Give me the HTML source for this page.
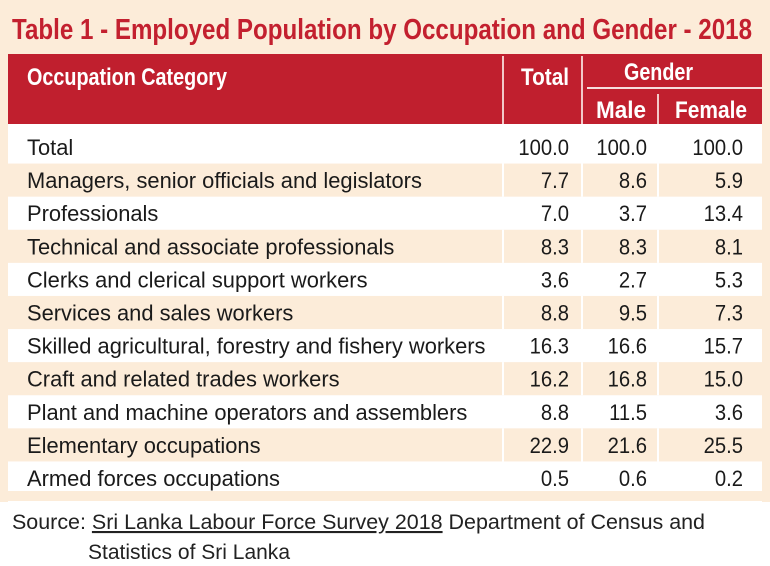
<!DOCTYPE html>
<html><head><meta charset="utf-8"><style>
html,body{margin:0;padding:0;background:#fff}
svg{display:block}
text{font-family:"Liberation Sans",sans-serif}
</style></head><body>
<svg width="770" height="566" viewBox="0 0 770 566" xmlns="http://www.w3.org/2000/svg">
<rect x="0" y="0" width="770" height="54" fill="#fcecd9"/>
<rect x="0" y="54" width="8" height="448" fill="#fcecd9"/>
<rect x="762" y="54" width="8" height="448" fill="#fcecd9"/>
<text x="12" y="39" font-size="29" font-weight="bold" fill="#c3202f" textLength="740" lengthAdjust="spacingAndGlyphs">Table 1 - Employed Population by Occupation and Gender - 2018</text>
<rect x="8" y="54" width="754" height="70" fill="#c01f2e"/>
<line x1="503" y1="56" x2="503" y2="124" stroke="#f3c9c9" stroke-width="2"/>
<line x1="582" y1="56" x2="582" y2="124" stroke="#f3c9c9" stroke-width="2"/>
<line x1="587" y1="88" x2="762" y2="88" stroke="#f7dede" stroke-width="2"/>
<line x1="658" y1="94" x2="658" y2="124" stroke="#f3c9c9" stroke-width="2"/>
<text x="27" y="85" font-size="24" font-weight="bold" fill="#fff" textLength="200" lengthAdjust="spacingAndGlyphs">Occupation Category</text>
<text x="521" y="85" font-size="24" font-weight="bold" fill="#fff" textLength="48" lengthAdjust="spacingAndGlyphs">Total</text>
<text x="624" y="80" font-size="24" font-weight="bold" fill="#fff" textLength="69" lengthAdjust="spacingAndGlyphs">Gender</text>
<text x="596" y="118" font-size="24" font-weight="bold" fill="#fff" textLength="50" lengthAdjust="spacingAndGlyphs">Male</text>
<text x="675" y="118" font-size="24" font-weight="bold" fill="#fff" textLength="72" lengthAdjust="spacingAndGlyphs">Female</text>
<g id="rows"></g>
<rect x="8" y="491" width="754" height="10" fill="#fcecd9"/>
<text x="12" y="529" font-size="21" fill="#222" textLength="693" lengthAdjust="spacingAndGlyphs">Source: <tspan text-decoration="underline">Sri Lanka Labour Force Survey 2018</tspan> Department of Census and</text>
<text x="88" y="559" font-size="21" fill="#222" textLength="202" lengthAdjust="spacingAndGlyphs">Statistics of Sri Lanka</text>
</svg>
<script>
const categories=["Total","Managers, senior officials and legislators","Professionals","Technical and associate professionals","Clerks and clerical support workers","Services and sales workers","Skilled agricultural, forestry and fishery workers","Craft and related trades workers","Plant and machine operators and assemblers","Elementary occupations","Armed forces occupations"];
const totalVals=["100.0","7.7","7.0","8.3","3.6","8.8","16.3","16.2","8.8","22.9","0.5"];
const maleVals=["100.0","8.6","3.7","8.3","2.7","9.5","16.6","16.8","11.5","21.6","0.6"];
const femaleVals=["100.0","5.9","13.4","8.1","5.3","7.3","15.7","15.0","3.6","25.5","0.2"];
const NS="http://www.w3.org/2000/svg";
const g=document.getElementById('rows');
const pitch=33.1, c0=147;
function mk(tag,attrs){const e=document.createElementNS(NS,tag);for(const k in attrs)e.setAttribute(k,attrs[k]);return e;}
categories.forEach((cat,i)=>{
  const cy=c0+pitch*i;
  if(i%2===1){
    const r=mk('rect',{x:8,y:cy-pitch/2,width:754,height:pitch,fill:'#fcecd9'});
    
    
    g.appendChild(r);
    [503,582,658].forEach(x=>{const l=mk('line',{x1:x,y1:cy-pitch/2,x2:x,y2:cy+pitch/2,stroke:'#fff','stroke-width':2});g.appendChild(l);});
  }
  const y=cy+8;
  const lab=mk('text',{x:0,y:0,'font-size':22,fill:'#1a1a1a',transform:`translate(27,${y}) scale(0.995,1)`});
  lab.textContent=cat;
  
  
  g.appendChild(lab);
  [[569,totalVals],[647,maleVals],[743,femaleVals]].forEach(([x,arr])=>{
    const t=mk('text',{x:0,y:0,'font-size':22,fill:'#1a1a1a','text-anchor':'end',transform:`translate(${x},${y}) scale(0.92,1)`});
    t.textContent=arr[i];
    
    
    g.appendChild(t);
  });
});
</script>
</body></html>
